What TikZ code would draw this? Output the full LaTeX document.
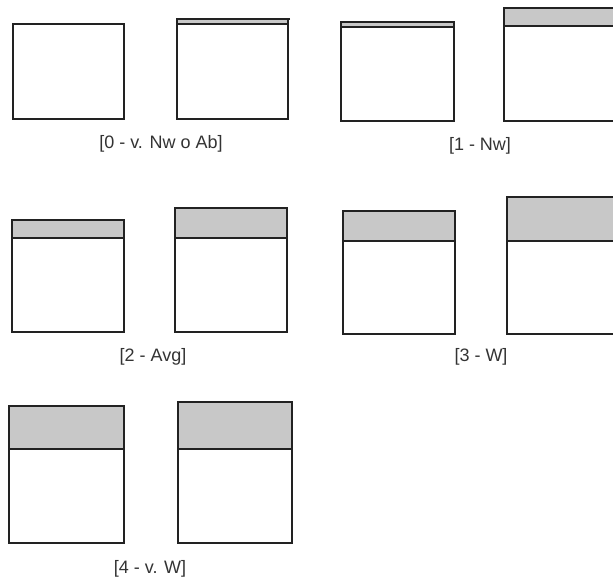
\documentclass[tikz,border=0pt]{standalone}
\usepackage{fontspec}
\setmainfont{Liberation Sans}
\definecolor{boxgray}{RGB}{200,200,200}
\definecolor{linecol}{RGB}{34,34,34}
\definecolor{textcol}{RGB}{51,51,51}
\begin{document}
\begin{tikzpicture}[x=1pt,y=-1pt,
  boxline/.style={draw=linecol,line width=1.6pt},
  strip/.style={boxline,fill=boxgray},
  lab/.style={text=textcol,font=\fontsize{18}{20}\selectfont,inner sep=0pt}]
\useasboundingbox (0,0) rectangle (613,582);
\clip (0,0) rectangle (613,582);
% row 0
\draw[boxline] (13,24) rectangle (124,119);
\draw[strip] (177,19) rectangle (288,24);
\draw[boxline] (290,19) -- (177,19);
\draw[boxline] (177,24) rectangle (288,119);
\node[lab] (l0) at (161,144) {[0 - v. Nw o Ab]};
% row 1
\draw[strip] (341,22) rectangle (454,27);
\draw[boxline] (341,27) rectangle (454,121);
\draw[strip] (504,8) rectangle (620,26);
\draw[boxline] (504,26) rectangle (620,121);
\node[lab] (l1) at (480,146) {[1 - Nw]};
% row 2
\draw[strip] (12,220) rectangle (124,238);
\draw[boxline] (12,238) rectangle (124,332);
\draw[strip] (175,208) rectangle (287,238);
\draw[boxline] (175,238) rectangle (287,332);
\node[lab] (l2) at (153,357) {[2 - Avg]};
% row 3
\draw[strip] (343,211) rectangle (455,241);
\draw[boxline] (343,241) rectangle (455,334);
\draw[strip] (507,197) rectangle (620,241);
\draw[boxline] (507,241) rectangle (620,334);
\node[lab] (l3) at (481,357) {[3 - W]};
% row 4
\draw[strip] (9,406) rectangle (124,449);
\draw[boxline] (9,449) rectangle (124,543);
\draw[strip] (178,402) rectangle (292,449);
\draw[boxline] (178,449) rectangle (292,543);
\node[lab] (l4) at (150,569) {[4 - v. W]};
\end{tikzpicture}
\end{document}
